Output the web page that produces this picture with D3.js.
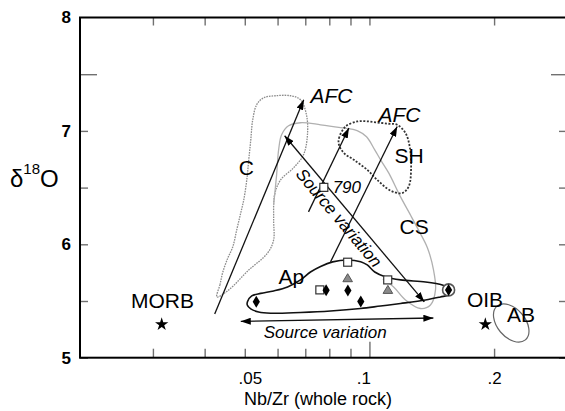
<!DOCTYPE html>
<html><head><meta charset="utf-8">
<script src="https://cdn.jsdelivr.net/npm/d3@7"></script>
<style>
body{margin:0;background:#fff;}
svg{display:block;font-family:"Liberation Sans",Arial,Helvetica,sans-serif;}
</style></head><body>
<svg id="chart" width="565" height="411"></svg>
<script>
// ---- axes ----
const xTicks = [0.03, 0.04, 0.05, 0.06, 0.07, 0.08, 0.09, 0.1, 0.2];
const xTickLabels = {0.05: ".05", 0.1: ".1", 0.2: ".2"};
const yTicks = [5, 5.5, 6, 6.5, 7, 7.5];
const yTickLabels = [5, 6, 7, 8];

// ---- samples (Nb/Zr, δ18O) ----
const diamonds = [[0.0533, 5.494], [0.0786, 5.595], [0.0887, 5.593], [0.0953, 5.496], [0.1553, 5.598]];
const squares = [[0.0759, 5.598], [0.0886, 5.842], [0.1107, 5.686], [0.0776, 6.502]];
const triangles = [[0.0886, 5.701], [0.1108, 5.598]];
const circled = [[0.1553, 5.598]];
const stars = [[0.0315, 5.294], [0.1905, 5.294]];

// ---- fields ----
const fieldC = [[0.04282,5.536],[0.04354,5.642],[0.04426,5.756],[0.0455,5.879],[0.04677,5.977],[0.04781,6.127],
  [0.04889,6.277],[0.04972,6.392],[0.05056,6.568],[0.05112,6.745],[0.05169,6.92],[0.05226,7.098],[0.05343,7.231],
  [0.05554,7.292],[0.05935,7.31],[0.06449,7.31],[0.06816,7.275],[0.07046,7.142],[0.07085,6.966],[0.0693,6.789],
  [0.06556,6.674],[0.06102,6.568],[0.05902,6.436],[0.0587,6.215],[0.0587,6.039],[0.05678,5.924],[0.05084,5.765],[0.04575,5.598]];
const fieldCS = [[0.0587,6.348],[0.05968,6.612],[0.06035,6.833],[0.06136,6.966],[0.06378,7.045],[0.06816,7.072],
  [0.07621,7.054],[0.08518,7.028],[0.09365,7.001],[0.0984,6.948],[0.103,6.833],[0.1064,6.745],[0.1113,6.63],
  [0.1189,6.418],[0.1256,6.259],[0.1313,6.127],[0.1381,5.968],[0.1428,5.774],[0.1444,5.598],[0.1404,5.465],
  [0.1328,5.434],[0.1222,5.509],[0.1144,5.624],[0.1077,5.694]];
const fieldSH = [[0.08442,6.877],[0.08442,6.936],[0.08757,7.039],[0.09346,7.083],[0.0984,7.085],[0.1044,7.074],
  [0.1112,7.063],[0.1167,7.054],[0.1222,6.981],[0.1251,6.862],[0.1261,6.686],[0.1244,6.509],[0.1199,6.451],
  [0.1124,6.474],[0.1044,6.568],[0.0988,6.657],[0.0917,6.745],[0.0868,6.804]];
const fieldAp = [[0.05075,5.494],[0.05197,5.545],[0.05463,5.567],[0.0587,5.589],[0.06343,5.624],[0.06816,5.686],
  [0.07204,5.756],[0.07621,5.805],[0.0815,5.845],[0.0884,5.862],[0.09522,5.847],[0.0988,5.818],[0.103,5.756],
  [0.1095,5.712],[0.1189,5.686],[0.1366,5.668],[0.15,5.642],[0.1553,5.616],[0.1578,5.584],[0.1553,5.553],
  [0.1484,5.536],[0.1366,5.509],[0.1189,5.478],[0.1064,5.456],[0.09522,5.434],[0.08055,5.412],[0.06816,5.399],
  [0.05774,5.392],[0.05402,5.403],[0.05169,5.43],[0.0507,5.465]];
const fieldAB = [0.22, 5.306];

// ---- trend arrows [x1, y1, x2, y2] ----
const afcArrows = [[0.0423, 5.386, 0.0694, 7.274], [0.07125, 6.286, 0.0892, 7.025], [0.08055, 5.845, 0.1167, 7.039]];
const sourceDiagonal = [0.0624, 6.957, 0.1357, 5.492];
const sourceHorizontal = [0.0489, 5.32, 0.1427, 5.35];

// ---- labels [text, x, y] ----
const fieldLabels = [["C", 0.04834, 6.613], ["SH", 0.1149, 6.718], ["CS", 0.1182, 6.087], ["Ap", 0.06035, 5.65],
  ["MORB", 0.02656, 5.434], ["OIB", 0.172, 5.447], ["AB", 0.2148, 5.315]];
const afcLabels = [["AFC", 0.07204, 7.244], ["AFC", 0.1051, 7.08]];
const sampleLabels = [["790", 0.0815, 6.449]];
const sourceLabel = "Source variation";
const sourceLabelPos = [0.0782, 5.178];

const svg = d3.select("#chart");
const plotL = 80, plotR = 567, plotT = 17.5, plotB = 357.7;
const x = d3.scaleLog().domain([0.02, 0.3]).range([plotL, plotR]);
const y = d3.scaleLinear().domain([5, 8]).range([plotB, plotT]);

const defs = svg.append("defs");
defs.append("marker").attr("id", "head")
  .attr("viewBox", "0 0 10 7").attr("refX", 10).attr("refY", 3.5)
  .attr("markerWidth", 10).attr("markerHeight", 7).attr("markerUnits", "userSpaceOnUse")
  .attr("orient", "auto-start-reverse")
  .append("path").attr("d", "M0,0L10,3.5L0,7Z").attr("fill", "#000");

const tickColor = "#707070";
const fontFamily = "'Liberation Sans',Arial,sans-serif";

// axes
const gL = svg.append("g").attr("transform", `translate(${plotL},0)`)
  .call(d3.axisLeft(y).tickValues(yTicks.concat([8])).tickSize(-8).tickPadding(9)
    .tickFormat(d => yTickLabels.includes(d) ? d : ""));
const gR = svg.append("g").attr("transform", `translate(${plotR},0)`)
  .call(d3.axisRight(y).tickValues(yTicks).tickSize(-8).tickFormat(""));
const gB = svg.append("g").attr("transform", `translate(0,${plotB})`)
  .call(d3.axisBottom(x).tickValues(xTicks).tickSize(-9).tickPadding(14)
    .tickFormat(d => xTickLabels[d] || ""));
const gT = svg.append("g").attr("transform", `translate(0,${plotT})`)
  .call(d3.axisTop(x).tickValues(xTicks).tickSize(-8).tickFormat(""));
[gL, gR, gB, gT].forEach(g => {
  g.select(".domain").remove();
  g.selectAll(".tick line").attr("stroke", tickColor).attr("stroke-width", 1.4);
});
gL.selectAll(".tick").filter(d => d === 8).select("line").remove();
gL.selectAll(".tick").filter(d => d === 7.5).select("line").attr("x2", 17);
gR.selectAll(".tick").filter(d => d === 7.5).select("line").attr("x2", -16);
gB.selectAll(".tick").filter(d => d === 0.1).select("line").attr("y2", -16);
gL.selectAll("text").attr("font-size", 17).attr("font-weight", "bold")
  .attr("font-family", fontFamily).attr("fill", "#000");
const xLabelShift = {0.05: 5, 0.1: -6, 0.2: 0};
gB.selectAll("text").attr("font-size", 17).attr("font-family", fontFamily)
  .attr("fill", "#000").attr("dx", d => xLabelShift[d] || 0);

// axis titles
svg.append("text").attr("x", 318).attr("y", 405).attr("text-anchor", "middle")
  .attr("font-size", 18).text("Nb/Zr (whole rock)");
const yt = svg.append("text").attr("x", 10).attr("y", 186.7).attr("font-size", 24);
yt.append("tspan").text("δ");
yt.append("tspan").attr("font-size", 15).attr("dy", -13).text("18");
yt.append("tspan").attr("dy", 13).text("O");

// fields
const lineOpen = d3.line().x(d => x(d[0])).y(d => y(d[1])).curve(d3.curveCatmullRom);
const lineClosed = d3.line().x(d => x(d[0])).y(d => y(d[1])).curve(d3.curveCatmullRomClosed);
svg.append("path").attr("d", lineClosed(fieldC))
  .attr("fill", "none").attr("stroke", "#8c8c8c").attr("stroke-width", 1.3).attr("stroke-dasharray", "1.6,1");
svg.append("path").attr("d", lineOpen(fieldCS))
  .attr("fill", "none").attr("stroke", "#b0b0b0").attr("stroke-width", 1.3);
svg.append("path").attr("d", lineClosed(fieldSH))
  .attr("fill", "none").attr("stroke", "#333").attr("stroke-width", 1.8).attr("stroke-dasharray", "2,1.6");
svg.append("path").attr("d", lineClosed(fieldAp))
  .attr("fill", "none").attr("stroke", "#111").attr("stroke-width", 1.6);
svg.append("ellipse").attr("cx", x(fieldAB[0])).attr("cy", y(fieldAB[1]))
  .attr("rx", 22).attr("ry", 14)
  .attr("transform", `rotate(50,${x(fieldAB[0])},${y(fieldAB[1])})`)
  .attr("fill", "none").attr("stroke", "#666").attr("stroke-width", 1.2);

// arrows
function arrow(a, both) {
  const p = svg.append("line")
    .attr("x1", x(a[0])).attr("y1", y(a[1])).attr("x2", x(a[2])).attr("y2", y(a[3]))
    .attr("stroke", "#111").attr("stroke-width", 1.3).attr("marker-end", "url(#head)");
  if (both) p.attr("marker-start", "url(#head)");
}
afcArrows.forEach(a => arrow(a, false));
arrow(sourceDiagonal, true);
arrow(sourceHorizontal, true);

// symbols
svg.append("g").selectAll("circle").data(circled).join("circle")
  .attr("cx", d => x(d[0])).attr("cy", d => y(d[1])).attr("r", 6)
  .attr("fill", "#fff").attr("stroke", "#555").attr("stroke-width", 1.6);
svg.append("g").selectAll("rect").data(squares).join("rect")
  .attr("x", d => x(d[0]) - 4).attr("y", d => y(d[1]) - 4).attr("width", 8).attr("height", 8)
  .attr("fill", "#fff").attr("stroke", "#333").attr("stroke-width", 1.2);
svg.append("g").selectAll("path").data(triangles).join("path")
  .attr("d", "M0,-4.5L4.8,3.5L-4.8,3.5Z")
  .attr("transform", d => `translate(${x(d[0])},${y(d[1])})`)
  .attr("fill", "#8a8a8a").attr("stroke", "#555").attr("stroke-width", 1);
svg.append("g").selectAll("path").data(diamonds).join("path")
  .attr("d", "M0,-6L3.6,0L0,6L-3.6,0Z")
  .attr("transform", d => `translate(${x(d[0])},${y(d[1])})`)
  .attr("fill", "#000");
svg.append("g").selectAll("path").data(stars).join("path")
  .attr("d", d3.symbol(d3.symbolStar, 55))
  .attr("transform", d => `translate(${x(d[0])},${y(d[1])})`)
  .attr("fill", "#000");

// labels
svg.append("g").selectAll("text").data(fieldLabels).join("text")
  .attr("x", d => x(d[1])).attr("y", d => y(d[2])).attr("font-size", 21).text(d => d[0]);
svg.append("g").selectAll("text").data(afcLabels).join("text")
  .attr("x", d => x(d[1])).attr("y", d => y(d[2])).attr("font-size", 21).attr("font-style", "italic").text(d => d[0]);
svg.append("g").selectAll("text").data(sampleLabels).join("text")
  .attr("x", d => x(d[1])).attr("y", d => y(d[2])).attr("font-size", 17).attr("font-style", "italic").text(d => d[0]);
svg.append("text").attr("x", x(sourceLabelPos[0])).attr("y", y(sourceLabelPos[1]))
  .attr("text-anchor", "middle").attr("font-size", 17).attr("font-style", "italic").text(sourceLabel);
{
  const x1 = x(sourceDiagonal[0]), y1 = y(sourceDiagonal[1]), x2 = x(sourceDiagonal[2]), y2 = y(sourceDiagonal[3]);
  const ang = Math.atan2(y2 - y1, x2 - x1);
  const f = 0.45, off = 17;
  const px = x1 + f * (x2 - x1) - off * Math.sin(ang), py = y1 + f * (y2 - y1) + off * Math.cos(ang);
  svg.append("text").attr("transform", `translate(${px},${py}) rotate(${ang * 180 / Math.PI})`)
    .attr("text-anchor", "middle").attr("font-size", 17).attr("font-style", "italic").text(sourceLabel);
}

// frame
svg.append("rect").attr("x", plotL).attr("y", plotT).attr("width", plotR - plotL).attr("height", plotB - plotT)
  .attr("fill", "none").attr("stroke", "#000").attr("stroke-width", 2);
</script>
</body></html>
